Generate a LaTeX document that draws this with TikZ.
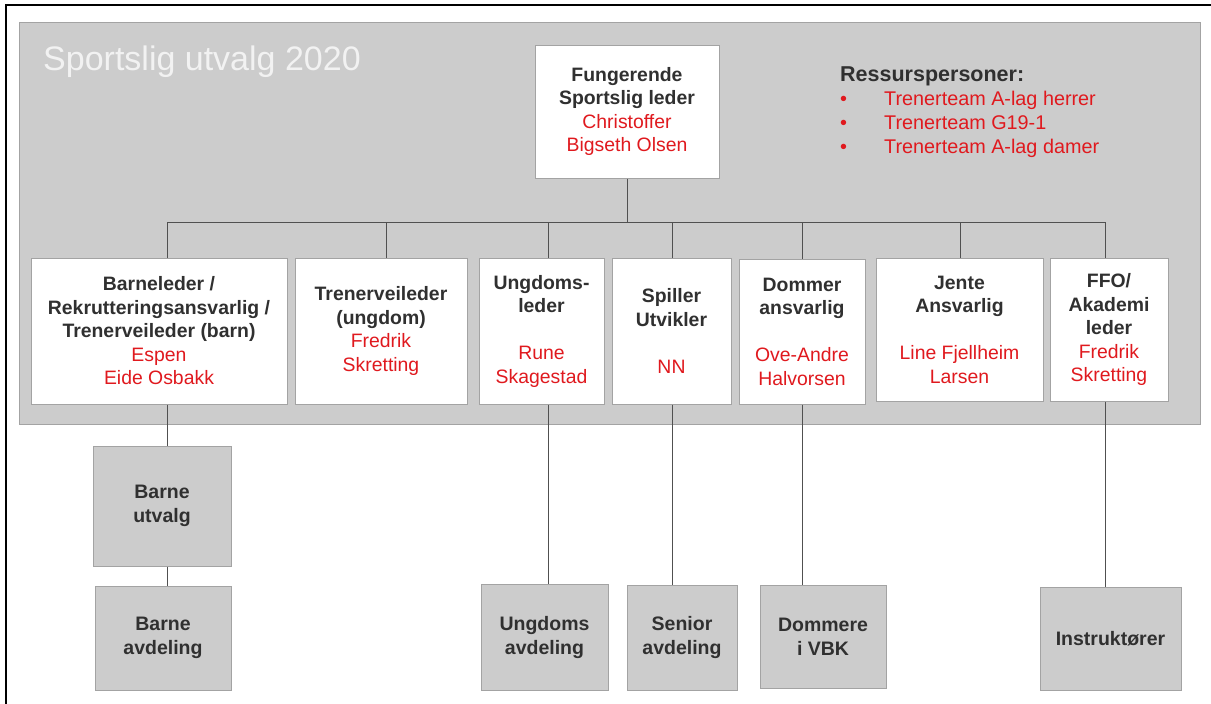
\documentclass[tikz,border=0pt]{standalone}
\usepackage{fontspec}
\setmainfont{Liberation Sans}
\definecolor{panelgray}{HTML}{CCCCCC}
\definecolor{bordergray}{HTML}{A3A3A3}
\definecolor{darktext}{HTML}{303030}
\definecolor{redc}{HTML}{E0191E}
\definecolor{linegray}{HTML}{505050}
\newcommand\rn[1]{\textcolor{redc}{\mdseries #1}}
\tikzset{
  rolebox/.style={draw=bordergray, line width=1pt, fill=white, align=center, inner sep=0pt,
    text=darktext, font=\fontsize{19.4}{23.5}\selectfont\bfseries},
  unitbox/.style={draw=bordergray, line width=1pt, fill=panelgray, align=center, inner sep=0pt,
    text=darktext, font=\fontsize{19.5}{24}\selectfont\bfseries},
  conn/.style={draw=linegray, line width=0.9pt},
}
\begin{document}
\begin{tikzpicture}[x=1pt,y=-1pt]
\useasboundingbox (0,0) rectangle (1211,704);
\fill[white] (0,0) rectangle (1211,704);
% outer frame
\draw[black, line width=2pt] (6,706) -- (6,5) -- (1213,5);
% panel
\draw[bordergray, line width=1pt, fill=panelgray] (19,22) rectangle (1200,424);
\node[anchor=base west, text=white!95!black, font=\fontsize{34}{38}\selectfont, inner sep=0pt] (title) at (43,70) {Sportslig utvalg 2020};
% resources
\node[anchor=base west, text=darktext, font=\fontsize{21.5}{24}\selectfont\bfseries, inner sep=0pt] (res) at (840,81) {Ressurspersoner:};
\foreach \i/\t in {1/Trenerteam A-lag herrer, 2/Trenerteam G19-1, 3/Trenerteam A-lag damer}{
  \node[anchor=base west, text=redc, font=\fontsize{19.8}{24}\selectfont, inner sep=0pt] (bul\i) at (840,81+24*\i) {\textbullet};
  \node[anchor=base west, text=redc, font=\fontsize{19.8}{24}\selectfont, inner sep=0pt] (item\i) at (884,81+24*\i) {\t};
}
% top box
\node[rolebox, minimum width=184pt, minimum height=133pt] (top) at (627,111.5)
  {Fungerende\\Sportslig leder\\\rn{Christoffer}\\\rn{Bigseth Olsen}};
% second row
\node[rolebox, minimum width=256pt, minimum height=146pt] (b1) at (159,331)
  {Barneleder /\\Rekrutteringsansvarlig /\\Trenerveileder (barn)\\\rn{Espen}\\\rn{Eide Osbakk}};
\node[rolebox, minimum width=172pt, minimum height=146pt] (b2) at (381,331)
  {Trenerveileder\\(ungdom)\\\rn{Fredrik}\\\rn{Skretting}};
\node[rolebox, minimum width=125pt, minimum height=146pt] (b3) at (541.5,331)
  {Ungdoms-\\leder\\\mbox{}\\\rn{Rune}\\\rn{Skagestad}};
\node[rolebox, minimum width=119pt, minimum height=146pt] (b4) at (671.5,331)
  {Spiller\\Utvikler\\\mbox{}\\\rn{NN}};
\node[rolebox, minimum width=126pt, minimum height=145pt] (b5) at (802,331.5)
  {Dommer\\ansvarlig\\\mbox{}\\\rn{Ove-Andre}\\\rn{Halvorsen}};
\node[rolebox, minimum width=167pt, minimum height=143pt] (b6) at (959.5,329.5)
  {Jente\\Ansvarlig\\\mbox{}\\\rn{Line Fjellheim}\\\rn{Larsen}};
\node[rolebox, minimum width=118pt, minimum height=143pt] (b7) at (1109,329.5)
  {FFO/\\Akademi\\leder\\\rn{Fredrik}\\\rn{Skretting}};
% bus
\coordinate (busL) at (167,222);
\coordinate (busR) at (1105,222);
\draw[conn] (top.south) -- (top.south |- busL);
\draw[conn] (busL) -- (busR);
\draw[conn] ([xshift=8pt]b1.north) -- ([xshift=8pt]b1.north |- busL);
\draw[conn] ([xshift=5pt]b2.north) -- ([xshift=5pt]b2.north |- busL);
\draw[conn] ([xshift=6.5pt]b3.north) -- ([xshift=6.5pt]b3.north |- busL);
\draw[conn] ([xshift=0.5pt]b4.north) -- ([xshift=0.5pt]b4.north |- busL);
\draw[conn] (b5.north) -- (b5.north |- busL);
\draw[conn] ([xshift=0.5pt]b6.north) -- ([xshift=0.5pt]b6.north |- busL);
\draw[conn] ([xshift=-4pt]b7.north) -- ([xshift=-4pt]b7.north |- busL);
% bottom units
\node[unitbox, minimum width=138pt, minimum height=120pt] (u1) at (162,506) {Barne\\utvalg};
\node[unitbox, minimum width=136pt, minimum height=104pt] (u2) at (163,638) {Barne\\avdeling};
\node[unitbox, minimum width=127pt, minimum height=106pt] (u3) at (544.5,637) {Ungdoms\\avdeling};
\node[unitbox, minimum width=110pt, minimum height=105pt] (u4) at (682,637.5) {Senior\\avdeling};
\node[unitbox, minimum width=126pt, minimum height=103pt] (u5) at (823,636.5) {Dommere\\i VBK};
\node[unitbox, minimum width=141pt, minimum height=103pt] (u6) at (1110.5,638.5) {Instruktører};
\draw[conn] ([xshift=8pt]b1.south) -- ([xshift=8pt]b1.south |- u1.north);
\draw[conn] ([xshift=5pt]u1.south) -- ([xshift=5pt]u1.south |- u2.north);
\draw[conn] ([xshift=6.5pt]b3.south) -- ([xshift=6.5pt]b3.south |- u3.north);
\draw[conn] ([xshift=0.5pt]b4.south) -- ([xshift=0.5pt]b4.south |- u4.north);
\draw[conn] (b5.south) -- (b5.south |- u5.north);
\draw[conn] ([xshift=-4pt]b7.south) -- ([xshift=-4pt]b7.south |- u6.north);
\end{tikzpicture}
\end{document}
